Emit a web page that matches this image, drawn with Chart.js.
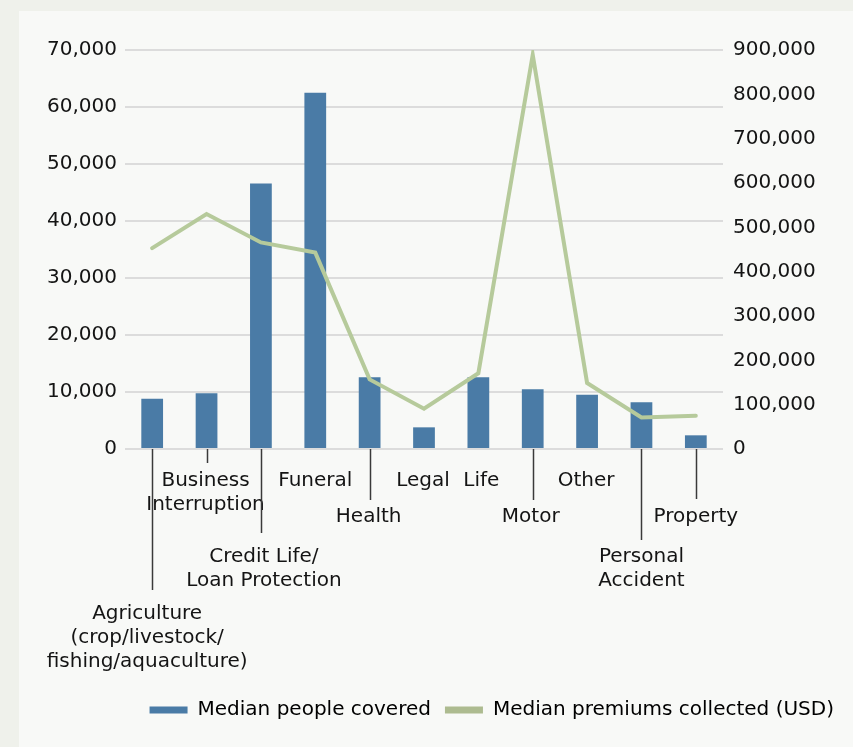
<!DOCTYPE html>
<html>
<head>
<meta charset="utf-8">
<script src="https://cdn.jsdelivr.net/npm/chart.js@4"></script>
<style>
  html, body { margin: 0; padding: 0; background: #eff1eb; }
  #panel { position: absolute; left: 19px; top: 11px; width: 834px; height: 736px; background: #f8f9f7; }
  canvas { display: block; }
</style>
</head>
<body>
<div id="panel"><canvas id="c" width="834" height="736"></canvas></div>
<script>
// Median people covered vs median premiums collected, by product line
const categories = [
  ['Agriculture', '(crop/livestock/', 'fishing/aquaculture)'],
  ['Business', 'Interruption'],
  ['Credit Life/', 'Loan Protection'],
  ['Funeral'],
  ['Health'],
  ['Legal'],
  ['Life'],
  ['Motor'],
  ['Other'],
  ['Personal', 'Accident'],
  ['Property']
];
const peopleCovered = [8800, 9800, 46600, 62500, 12600, 3800, 12600, 10500, 9500, 8200, 2400];
const premiumsUSD = [453000, 530000, 466000, 443000, 157000, 91000, 171000, 889000, 149000, 71000, 75000];
const leftMax = 70000, leftStep = 10000;
const rightMax = 900000, rightStep = 100000;
const seriesNames = ['Median people covered', 'Median premiums collected (USD)'];

const BLUE = '#4a7ba6', GREEN = '#b6ca9b', TXT = '#141414';
Chart.defaults.font.family = '"DejaVu Sans", sans-serif';
Chart.defaults.font.size = 20;
Chart.defaults.color = TXT;

// staggered category labels with leader lines (y = first line centre, lead = leader end)
const labelPos = [
  { dx: -5, y: 603, lead: 579 },
  { dx: -1, y: 470, lead: 452 },
  { dx: 3,  y: 546, lead: 522 },
  { dx: 0,  y: 470 },
  { dx: -1, y: 506, lead: 489 },
  { dx: -1, y: 470 },
  { dx: 3,  y: 470 },
  { dx: -2, y: 506, lead: 489 },
  { dx: -1, y: 470 },
  { dx: 0,  y: 546, lead: 529 },
  { dx: 0,  y: 506, lead: 488 }
];

const staggerLabels = {
  id: 'staggerLabels',
  afterDraw(chart) {
    const { ctx, chartArea, scales: { x } } = chart;
    ctx.save();
    ctx.strokeStyle = '#3a3a3a';
    ctx.lineWidth = 1.5;
    ctx.fillStyle = TXT;
    ctx.font = '20px "DejaVu Sans", sans-serif';
    ctx.textAlign = 'center';
    ctx.textBaseline = 'middle';
    categories.forEach((lines, i) => {
      const p = labelPos[i];
      const cx = x.getPixelForValue(i);
      if (p.lead) {
        ctx.beginPath();
        ctx.moveTo(Math.round(cx) + 0.5, chartArea.bottom);
        ctx.lineTo(Math.round(cx) + 0.5, p.lead);
        ctx.stroke();
      }
      lines.forEach((t, k) => ctx.fillText(t, cx + p.dx, p.y + k * 24));
    });
    ctx.restore();
  }
};

new Chart(document.getElementById('c'), {
  type: 'bar',
  data: {
    labels: categories,
    datasets: [
      { type: 'bar', label: seriesNames[0], data: peopleCovered, yAxisID: 'y', backgroundColor: BLUE,
        barPercentage: 0.4, categoryPercentage: 1, order: 1 },
      { type: 'line', label: seriesNames[1], data: premiumsUSD, yAxisID: 'y1', borderColor: GREEN,
        borderWidth: 4, pointRadius: 0, tension: 0, borderCapStyle: 'round', fill: false, order: 0 }
    ]
  },
  options: {
    responsive: false,
    animation: false,
    layout: { padding: { top: 39, right: 5, bottom: 17, left: 0 } },
    plugins: {
      tooltip: { enabled: false },
      legend: {
        position: 'bottom',
        align: 'end',
        labels: {
          color: TXT,
          boxWidth: 38,
          boxHeight: 7,
          padding: 14,
          generateLabels: () => [
            { text: seriesNames[0], fillStyle: BLUE, strokeStyle: BLUE, lineWidth: 0, datasetIndex: 0 },
            { text: seriesNames[1], fillStyle: '#adbb90', strokeStyle: '#adbb90', lineWidth: 0, datasetIndex: 1 }
          ]
        }
      }
    },
    scales: {
      x: {
        grid: { display: false },
        border: { display: false },
        ticks: { display: false },
        afterFit: s => { s.height = 237 }
      },
      y: {
        position: 'left',
        min: 0, max: leftMax,
        border: { display: false },
        grid: { color: '#dcdcdc', lineWidth: 2, drawTicks: false },
        ticks: { stepSize: leftStep, padding: 8, color: TXT, callback: v => v.toLocaleString('en-US') },
        afterFit: s => { s.width = 106 }
      },
      y1: {
        position: 'right',
        min: 0, max: rightMax,
        border: { display: false },
        grid: { display: false, drawTicks: false },
        ticks: { stepSize: rightStep, padding: 10, color: TXT, callback: v => v.toLocaleString('en-US') },
        afterFit: s => { s.width = 125 }
      }
    }
  },
  plugins: [staggerLabels]
});
</script>
</body>
</html>
